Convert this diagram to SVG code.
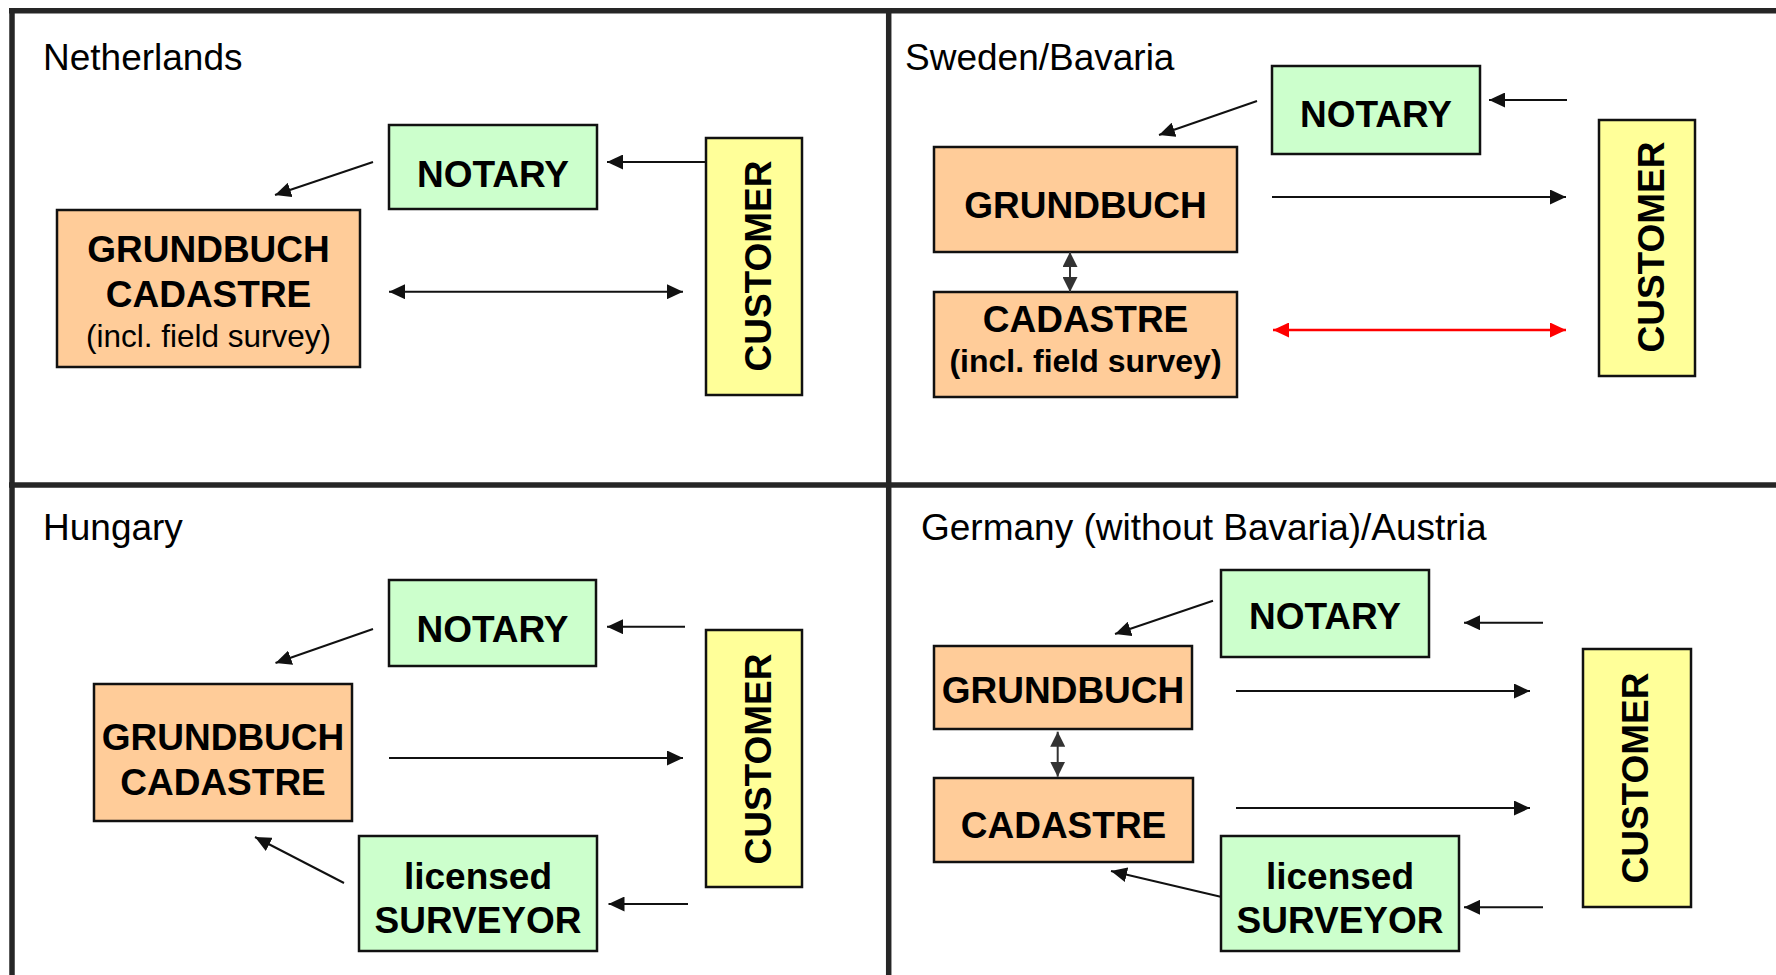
<svg xmlns="http://www.w3.org/2000/svg" width="1776" height="975" viewBox="0 0 1776 975">
<style>
.frame{stroke:#262626;stroke-width:5.5;fill:none}
.box{stroke:#111;stroke-width:2.5}
.org{fill:#FFCC99}
.grn{fill:#CCFFCC}
.yel{fill:#FFFF99}
.t{font-family:"Liberation Sans",Arial,sans-serif;fill:#000;text-anchor:middle}
.b{font-weight:bold;font-size:37px}
.title{font-family:"Liberation Sans",Arial,sans-serif;font-size:37px;fill:#000}
.a{stroke:#111;stroke-width:2;fill:none;marker-end:url(#ah)}
.d{stroke:#111;stroke-width:2;fill:none;marker-start:url(#ah);marker-end:url(#ah)}
.g{stroke:#333;stroke-width:2;fill:none;marker-start:url(#ahg);marker-end:url(#ahg)}
.r{stroke:#FF0000;stroke-width:2.5;fill:none;marker-start:url(#ahr);marker-end:url(#ahr)}
</style>
<defs>
<marker id="ah" markerUnits="userSpaceOnUse" markerWidth="16" markerHeight="15" refX="16" refY="7.5" orient="auto-start-reverse" viewBox="0 0 16 15"><path d="M0,0 L16,7.5 L0,15 z" fill="#111"/></marker>
<marker id="ahg" markerUnits="userSpaceOnUse" markerWidth="15" markerHeight="15" refX="15" refY="7.5" orient="auto-start-reverse" viewBox="0 0 15 15"><path d="M0,0 L15,7.5 L0,15 z" fill="#333"/></marker>
<marker id="ahr" markerUnits="userSpaceOnUse" markerWidth="16" markerHeight="15" refX="16" refY="7.5" orient="auto-start-reverse" viewBox="0 0 16 15"><path d="M0,0 L16,7.5 L0,15 z" fill="#FF0000"/></marker>
</defs>
<rect width="1776" height="975" fill="#fff"/>
<g id="frame">
<line class="frame" x1="9" y1="10.8" x2="1776" y2="10.8"/>
<line class="frame" x1="12" y1="8" x2="12" y2="975"/>
<line class="frame" x1="888.7" y1="8" x2="888.7" y2="975" stroke="#000"/>
<line class="frame" x1="9" y1="485" x2="1776" y2="485" stroke="#000"/>
</g>
<g id="titles">
<text class="title" x="43" y="70">Netherlands</text>
<text class="title" x="905" y="70">Sweden/Bavaria</text>
<text class="title" x="43" y="540">Hungary</text>
<text class="title" x="921" y="540">Germany (without Bavaria)/Austria</text>
</g>
<!-- Netherlands -->
<g id="nl-notary"><rect class="box grn" x="389" y="125" width="208" height="84"/><text class="t b" x="493" y="187">NOTARY</text></g>
<g id="nl-grundbuch"><rect class="box org" x="57" y="210" width="303" height="157"/><text class="t b" x="208.5" y="262">GRUNDBUCH</text><text class="t b" x="208.5" y="307">CADASTRE</text><text class="t" x="208.5" y="347" font-size="31.5">(incl. field survey)</text></g>
<g id="nl-customer"><rect class="box yel" x="706" y="138" width="96" height="257"/><text class="t b" transform="translate(771,266) rotate(-90)">CUSTOMER</text></g>
<!-- Sweden -->
<g id="se-notary"><rect class="box grn" x="1272" y="66" width="208" height="88"/><text class="t b" x="1376" y="127">NOTARY</text></g>
<g id="se-grundbuch"><rect class="box org" x="934" y="147" width="303" height="105"/><text class="t b" x="1085.5" y="218">GRUNDBUCH</text></g>
<g id="se-cadastre"><rect class="box org" x="934" y="292" width="303" height="105"/><text class="t b" x="1085.5" y="332">CADASTRE</text><text class="t" x="1085.5" y="372" font-size="32" font-weight="bold">(incl. field survey)</text></g>
<g id="se-customer"><rect class="box yel" x="1599" y="120" width="96" height="256"/><text class="t b" transform="translate(1664,247) rotate(-90)">CUSTOMER</text></g>
<!-- Hungary -->
<g id="hu-notary"><rect class="box grn" x="389" y="580" width="207" height="86"/><text class="t b" x="492.5" y="642">NOTARY</text></g>
<g id="hu-grundbuch"><rect class="box org" x="94" y="684" width="258" height="137"/><text class="t b" x="223" y="750">GRUNDBUCH</text><text class="t b" x="223" y="795">CADASTRE</text></g>
<g id="hu-surveyor"><rect class="box grn" x="359" y="836" width="238" height="115"/><text class="t b" x="478" y="889">licensed</text><text class="t b" x="478" y="933">SURVEYOR</text></g>
<g id="hu-customer"><rect class="box yel" x="706" y="630" width="96" height="257"/><text class="t b" transform="translate(771,759) rotate(-90)">CUSTOMER</text></g>
<!-- Germany -->
<g id="de-notary"><rect class="box grn" x="1221" y="570" width="208" height="87"/><text class="t b" x="1325" y="629">NOTARY</text></g>
<g id="de-grundbuch"><rect class="box org" x="934" y="646" width="258" height="83"/><text class="t b" x="1063" y="703">GRUNDBUCH</text></g>
<g id="de-cadastre"><rect class="box org" x="934" y="778" width="259" height="84"/><text class="t b" x="1063.5" y="838">CADASTRE</text></g>
<g id="de-surveyor"><rect class="box grn" x="1221" y="836" width="238" height="115"/><text class="t b" x="1340" y="889">licensed</text><text class="t b" x="1340" y="933">SURVEYOR</text></g>
<g id="de-customer"><rect class="box yel" x="1583" y="649" width="108" height="258"/><text class="t b" transform="translate(1648,778) rotate(-90)">CUSTOMER</text></g>
<g id="connectors">
<line class="a" x1="705" y1="162" x2="607" y2="162"/>
<line class="a" x1="373" y1="162" x2="275" y2="195"/>
<line class="d" x1="389" y1="291.7" x2="683" y2="291.7"/>

<line class="a" x1="1567" y1="100" x2="1489" y2="100"/>
<line class="a" x1="1257" y1="101" x2="1159" y2="135"/>
<line class="a" x1="1272" y1="197" x2="1566" y2="197"/>
<line class="r" x1="1273" y1="330" x2="1566" y2="330"/>
<line class="g" x1="1070" y1="252" x2="1070" y2="292"/>

<line class="a" x1="685" y1="626.7" x2="607" y2="626.7"/>
<line class="a" x1="373" y1="629" x2="275.5" y2="663"/>
<line class="a" x1="389" y1="758" x2="683" y2="758"/>
<line class="a" x1="344" y1="883" x2="255" y2="837"/>
<line class="a" x1="688" y1="904" x2="608.5" y2="904"/>

<line class="a" x1="1543" y1="622.7" x2="1464" y2="622.7"/>
<line class="a" x1="1213" y1="600.7" x2="1115" y2="634"/>
<line class="a" x1="1236" y1="691" x2="1530" y2="691"/>
<line class="a" x1="1236" y1="808" x2="1530" y2="808"/>
<line class="g" x1="1057.7" y1="731.7" x2="1057.7" y2="776.7"/>
<line class="a" x1="1220.6" y1="896.7" x2="1111" y2="871"/>
<line class="a" x1="1543" y1="907.3" x2="1464" y2="907.3"/>
</g>
</svg>
